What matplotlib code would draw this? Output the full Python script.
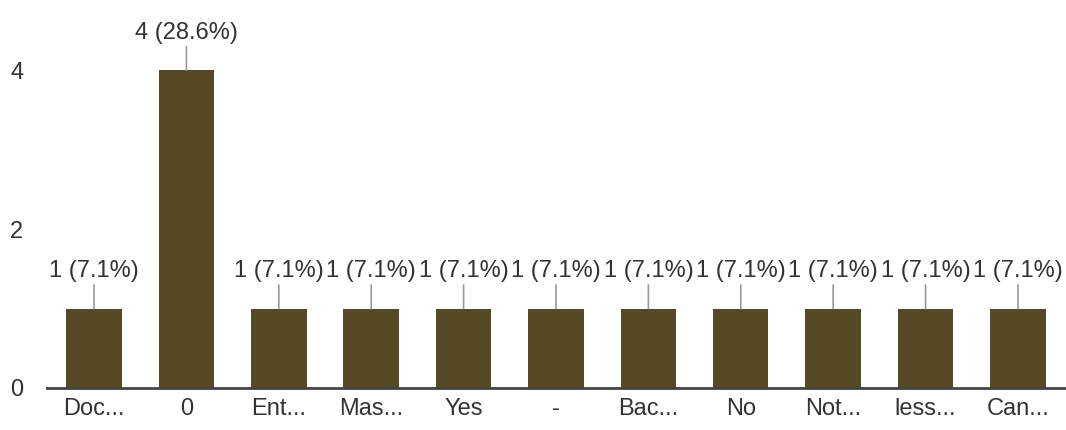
import matplotlib.pyplot as plt
import numpy as np

plt.rcParams['font.family'] = ['Liberation Sans', 'DejaVu Sans']

labels = ['Doc...', '0', 'Ent...', 'Mas...', 'Yes', '-', 'Bac...', 'No', 'Not...', 'less...', 'Can...']
counts = [1, 4, 1, 1, 1, 1, 1, 1, 1, 1, 1]
percents = [7.1, 28.6, 7.1, 7.1, 7.1, 7.1, 7.1, 7.1, 7.1, 7.1, 7.1]

fig = plt.figure(figsize=(10.66, 4.3), dpi=100)
ax = fig.add_axes([0.044, 0.0977, 0.956, 0.887])

x = np.arange(len(labels))
ax.bar(x, counts, width=0.6, color='#554a25', zorder=2)

for xi, c, p in zip(x, counts, percents):
    ax.annotate(f'{c} ({p}%)', xy=(xi, c), xytext=(0, 19), textcoords='offset points',
                ha='center', va='bottom', fontsize=17, color='#333333',
                arrowprops=dict(arrowstyle='-', color='#999999', lw=1.2,
                                shrinkA=0, shrinkB=0))

ax.set_xlim(-0.51, 10.52)
ax.set_ylim(0, 4.8)
ax.set_yticks([0, 2, 4])
ax.set_xticks(x)
ax.set_xticklabels(labels)
ax.tick_params(axis='both', length=0, labelsize=17, colors='#333333')
ax.tick_params(axis='y', pad=17)
ax.tick_params(axis='x', pad=7)

for s in ['top', 'right', 'left']:
    ax.spines[s].set_visible(False)
ax.spines['bottom'].set_color('#444444')
ax.spines['bottom'].set_linewidth(2)
ax.spines['bottom'].set_zorder(3)

fig.savefig('out.png', dpi=100)
